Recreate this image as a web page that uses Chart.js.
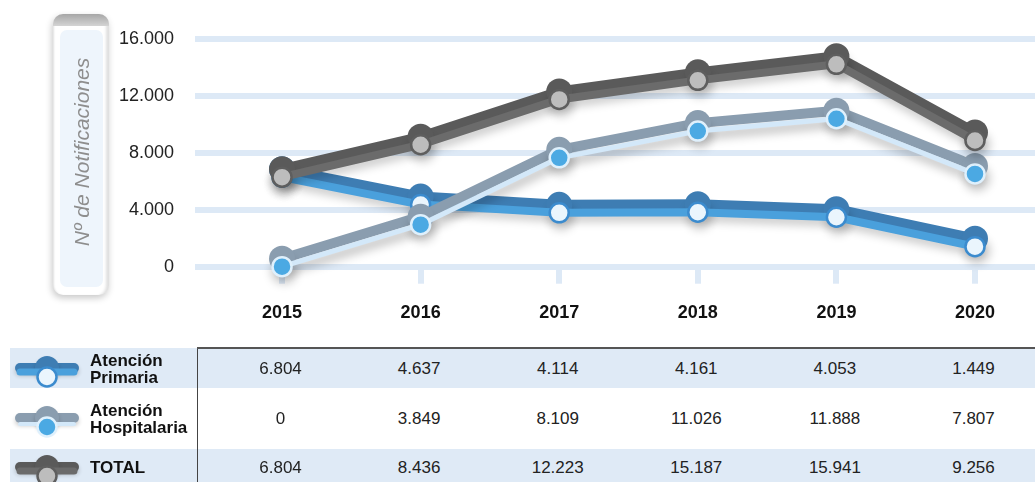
<!DOCTYPE html>
<html lang="es">
<head>
<meta charset="utf-8">
<title>Nº de Notificaciones 2015-2020</title>
<script src="https://cdn.jsdelivr.net/npm/chart.js@4.4.1/dist/chart.umd.min.js"></script>
<style>
html,body{margin:0;padding:0;background:#fff;}
body{width:1035px;height:482px;overflow:hidden;position:relative;font-family:"Liberation Sans",Arial,sans-serif;}
#chartWrap{position:absolute;left:0;top:0;width:1035px;height:340px;}
#ybox{position:absolute;left:53px;top:14px;width:56px;height:281px;border-radius:10px;background:#fff;
  box-shadow:-1px 3px 7px rgba(0,0,0,0.22), inset -5px 0 3px -2px rgba(0,0,0,0.13), inset 2px 0 2px -1px rgba(0,0,0,0.12);overflow:hidden;}
#ybox .cap{position:absolute;left:0;top:0;width:100%;height:12px;background:linear-gradient(#a6a6a6,#d4d4d4);}
#ybox .panel{position:absolute;left:7px;top:16px;width:43px;height:257px;background:#eef5fc;border-radius:7px;}
#ybox .ytitle{position:absolute;left:29px;top:137.5px;transform:translate(-50%,-50%) rotate(-90deg);white-space:nowrap;font-style:italic;font-size:21px;color:#8e8e8e;}
.band{position:absolute;left:10px;width:1025px;background:#dfeaf6;}
#vline{position:absolute;left:197px;top:348px;width:1px;height:134px;background:#444;}
#hline{position:absolute;left:197px;top:347px;width:838px;height:1.5px;background:#555;}
#icons{position:absolute;left:0;top:340px;}
.lab{position:absolute;left:90px;font-weight:bold;font-size:17px;line-height:16.5px;color:#111;white-space:pre-line;transform:translateY(-50%);}
.val{position:absolute;width:90px;text-align:center;font-size:17px;line-height:20px;color:#222;}
</style>
</head>
<body>
<div id="chartWrap"><canvas id="c"></canvas></div>
<div id="ybox"><div class="cap"></div><div class="panel"></div><div class="ytitle">Nº de Notificaciones</div></div>
<div class="band" style="top:348px;height:40px"></div>
<div class="band" style="top:449px;height:34px"></div>
<div id="vline"></div><div id="hline"></div>
<canvas id="icons" width="100" height="142"></canvas>
<div id="rows"></div>
<script>
// ---- data ----
const years = ['2015', '2016', '2017', '2018', '2019', '2020'];
const seriesNames = ['Atención\nPrimaria', 'Atención\nHospitalaria', 'TOTAL'];
// values printed in the table
const primariaValues = [6804, 4637, 4114, 4161, 4053, 1449];
const hospitalariaValues = [0, 3849, 8109, 11026, 11888, 7807];
const totalValues = [6804, 8436, 12223, 15187, 15941, 9256];
// line heights as drawn in the graph
const primariaPlot = [6300, 4370, 3790, 3830, 3480, 1410];
const hospitalariaPlot = [0, 2960, 7660, 9540, 10410, 6530];
const totalPlot = [6300, 8580, 11770, 13110, 14240, 8880];
const yTicks = [0, 4000, 8000, 12000, 16000];

// ---- styles ----
const FONT = '"Liberation Sans", Arial, sans-serif';
const GRID = '#dde9f6';
const styles = [
  {back:'#3e7db3', line:'#4aa0dc', lineW:8, fill:'#eaf5fd', border:'#3b8bce', frontOff:5},
  {back:'#8a9daf', line:'#d3e8f9', lineW:5, fill:'#4ba9e3', border:'#dff0fc', frontOff:3},
  {back:'#5a5a5a', line:'#6b6b6b', lineW:8, fill:'#bdbdbd', border:'#5e5e5e', frontOff:5}
];
const LIFT = 8;

const fmt = n => String(n).replace(/\B(?=(\d{3})+(?!\d))/g, '.');
const pts = arr => arr.map((v, i) => ({x: i, y: v}));

function layers(arr, st, baseOrder) {
  return [
    {data: pts(arr), borderColor: st.back, borderWidth: 10, pointRadius: 13, pointHoverRadius: 13,
     pointBackgroundColor: st.back, pointBorderWidth: 0, lift: LIFT, shadow: true,
     order: baseOrder + 1, clip: false, tension: 0, fill: false,
     borderCapStyle: 'round', borderJoinStyle: 'round'},
    {data: pts(arr), borderColor: st.line, borderWidth: st.lineW, pointRadius: 9.5, pointHoverRadius: 9.5,
     pointBackgroundColor: st.fill, pointBorderColor: st.border, pointBorderWidth: 2.5,
     order: baseOrder, clip: false, tension: 0, fill: false,
     borderCapStyle: 'round', borderJoinStyle: 'round'}
  ];
}

const liftPlugin = {
  id: 'lift',
  beforeDatasetDraw(chart, args) {
    const ds = chart.data.datasets[args.index];
    const ctx = chart.ctx;
    ctx.save();
    if (ds.lift) ctx.translate(0, -ds.lift);
    if (ds.shadow) {
      ctx.shadowColor = 'rgba(0,0,0,0.22)';
      ctx.shadowBlur = 10;
      ctx.shadowOffsetX = 2;
      ctx.shadowOffsetY = 12;
    }
  },
  afterDatasetDraw(chart) { chart.ctx.restore(); }
};

const X_MIN = -0.628, X_MAX = 5.433;

const chart = new Chart(document.getElementById('c'), {
  type: 'line',
  data: {
    datasets: [
      ...layers(primariaPlot, styles[0], 5),
      ...layers(hospitalariaPlot, styles[1], 3),
      ...layers(totalPlot, styles[2], 1)
    ]
  },
  options: {
    responsive: true,
    maintainAspectRatio: false,
    animation: false,
    events: [],
    layout: {autoPadding: false, padding: {top: 39.3, left: 0, right: 0, bottom: 0}},
    plugins: {legend: {display: false}, tooltip: {enabled: false}},
    scales: {
      x: {
        type: 'linear', position: 'bottom', min: X_MIN, max: X_MAX,
        afterBuildTicks: s => { s.ticks = years.map((_, i) => ({value: i})); },
        afterFit: s => { s.height = 73.3; s.paddingLeft = 0; s.paddingRight = 0; },
        ticks: {includeBounds: false, stepSize: 1, autoSkip: false, maxRotation: 0, padding: 19,
          color: '#111', font: {family: FONT, size: 18, weight: 'bold'},
          callback: v => Number.isInteger(v) ? years[v] : null},
        grid: {drawOnChartArea: false, drawTicks: true, tickLength: 17, color: GRID, lineWidth: 6},
        border: {display: false}
      },
      y: {
        min: 0, max: 16000,
        afterBuildTicks: s => { s.ticks = yTicks.map(v => ({value: v})); },
        afterFit: s => { s.width = 195; },
        ticks: {stepSize: 4000, padding: 21, color: '#222', font: {family: FONT, size: 18},
          callback: v => fmt(v)},
        grid: {color: GRID, lineWidth: 6, drawTicks: false},
        border: {display: false}
      }
    }
  },
  plugins: [liftPlugin]
});

// ---- table (legend + values) ----
const rowCenters = [369, 419, 468];
const tableValues = [primariaValues, hospitalariaValues, totalValues];
const rows = document.getElementById('rows');
seriesNames.forEach((name, r) => {
  const lab = document.createElement('div');
  lab.className = 'lab';
  lab.style.top = rowCenters[r] + 'px';
  lab.textContent = name;
  rows.appendChild(lab);
  tableValues[r].forEach((v, i) => {
    const d = document.createElement('div');
    d.className = 'val';
    const x = chart.scales.x.getPixelForValue(i) - 1.5;
    d.style.left = (x - 45) + 'px';
    d.style.top = (rowCenters[r] - 10) + 'px';
    d.textContent = fmt(v);
    rows.appendChild(d);
  });
});

// legend icons
const ic = document.getElementById('icons').getContext('2d');
function drawIcon(cy, st) {
  const cx = 47;
  ic.save();
  ic.shadowColor = 'rgba(0,0,0,0.2)'; ic.shadowBlur = 4; ic.shadowOffsetY = 3;
  ic.lineCap = 'round';
  ic.strokeStyle = st.back; ic.lineWidth = 10;
  ic.beginPath(); ic.moveTo(20, cy - 9); ic.lineTo(74, cy - 9); ic.stroke();
  ic.fillStyle = st.back;
  ic.beginPath(); ic.arc(cx, cy - 9, 12, 0, Math.PI * 2); ic.fill();
  ic.restore();
  ic.save();
  ic.lineCap = 'round';
  ic.strokeStyle = st.line; ic.lineWidth = st.lineW - 1;
  ic.beginPath(); ic.moveTo(20, cy - st.frontOff); ic.lineTo(74, cy - st.frontOff); ic.stroke();
  ic.fillStyle = st.fill; ic.strokeStyle = st.border; ic.lineWidth = 2.5;
  ic.beginPath(); ic.arc(cx, cy, 9.5, 0, Math.PI * 2); ic.fill(); ic.stroke();
  ic.restore();
}
styles.forEach((st, r) => drawIcon(rowCenters[r] - 340 + 8, st));
</script>
</body>
</html>
